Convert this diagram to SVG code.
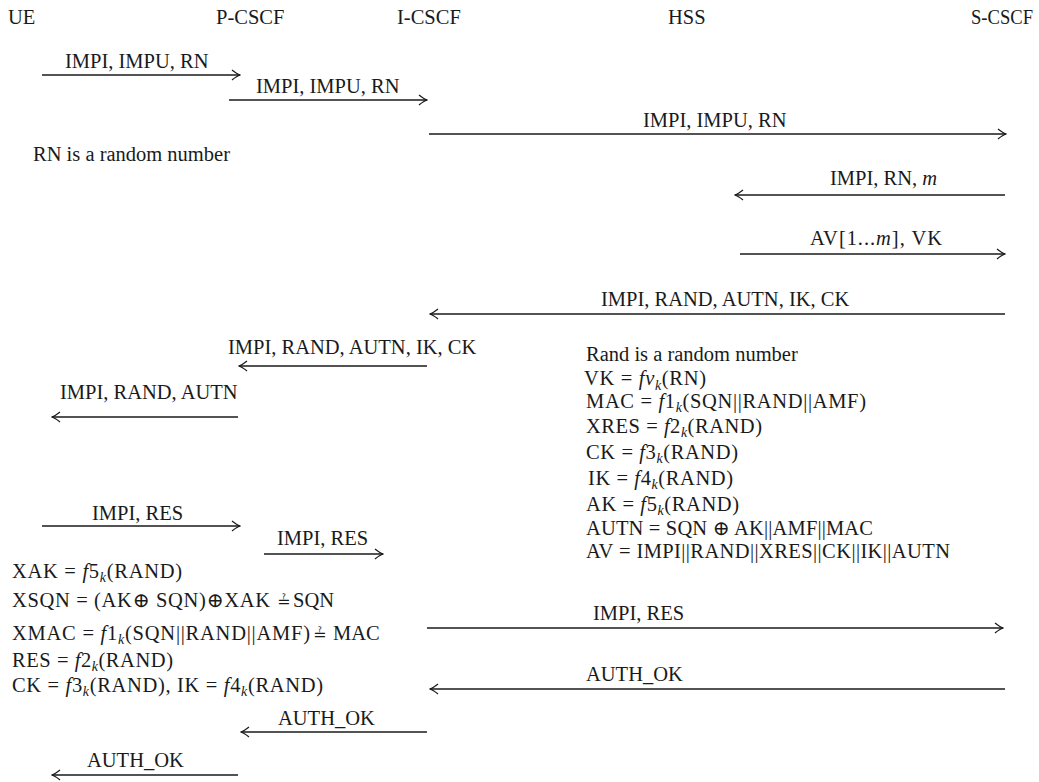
<svg xmlns="http://www.w3.org/2000/svg" width="1039" height="782" viewBox="0 0 1039 782">
<style>
text{font-family:"Liberation Serif","DejaVu Serif",serif;font-size:20.5px;fill:#1a1a1a}
.i{font-style:italic}
.s{font-style:italic;font-size:14px}
.qe{font-family:"DejaVu Sans",sans-serif;font-size:16px}
.ln{stroke:#1a1a1a;stroke-width:1.3;fill:none}
</style>
<defs>
<marker id="ah" viewBox="0 0 10 12" refX="9" refY="6" markerWidth="10" markerHeight="12" markerUnits="userSpaceOnUse" orient="auto">
<path d="M1,1 Q6,5 9,6 Q6,7 1,11" fill="none" stroke="#1a1a1a" stroke-width="1.3"/>
</marker>
</defs>
<rect width="1039" height="782" fill="#fff"/>

<g id="UE"><text x="8" y="24">UE</text></g>
<g id="P-CSCF"><text x="216" y="24">P-CSCF</text></g>
<g id="I-CSCF"><text x="397" y="24">I-CSCF</text></g>
<g id="HSS"><text x="668" y="24">HSS</text></g>
<g id="S-CSCF"><text x="1033" y="24" text-anchor="end" textLength="62" lengthAdjust="spacingAndGlyphs">S-CSCF</text></g>

<g id="connectors">
<line class="ln" x1="42" y1="75" x2="240" y2="75" marker-end="url(#ah)"/>
<text x="65" y="68">IMPI, IMPU, RN</text>
<line class="ln" x1="229" y1="100" x2="427" y2="100" marker-end="url(#ah)"/>
<text x="256" y="93">IMPI, IMPU, RN</text>
<line class="ln" x1="429" y1="134" x2="1006" y2="134" marker-end="url(#ah)"/>
<text x="643" y="127">IMPI, IMPU, RN</text>
<line class="ln" x1="1005" y1="195" x2="735" y2="195" marker-end="url(#ah)"/>
<text x="830" y="185">IMPI, RN, <tspan class="i">m</tspan></text>
<line class="ln" x1="740" y1="254" x2="1005" y2="254" marker-end="url(#ah)"/>
<text x="810" y="245" textLength="132" lengthAdjust="spacing">AV[1...<tspan class="i">m</tspan>], VK</text>
<line class="ln" x1="1005" y1="314" x2="430" y2="314" marker-end="url(#ah)"/>
<text x="601" y="306">IMPI, RAND, AUTN, IK, CK</text>
<line class="ln" x1="427" y1="366" x2="239" y2="366" marker-end="url(#ah)"/>
<text x="228" y="354">IMPI, RAND, AUTN, IK, CK</text>
<line class="ln" x1="238" y1="417" x2="52" y2="417" marker-end="url(#ah)"/>
<text x="60" y="399">IMPI, RAND, AUTN</text>
<line class="ln" x1="42" y1="526" x2="240" y2="526" marker-end="url(#ah)"/>
<text x="92" y="520">IMPI, RES</text>
<line class="ln" x1="264" y1="554" x2="383" y2="554" marker-end="url(#ah)"/>
<text x="277" y="545">IMPI, RES</text>
<line class="ln" x1="427" y1="628" x2="1003" y2="628" marker-end="url(#ah)"/>
<text x="593" y="620">IMPI, RES</text>
<line class="ln" x1="1005" y1="689" x2="430" y2="689" marker-end="url(#ah)"/>
<text x="586" y="681">AUTH_OK</text>
<line class="ln" x1="427" y1="732" x2="241" y2="732" marker-end="url(#ah)"/>
<text x="278" y="725">AUTH_OK</text>
<line class="ln" x1="238" y1="775" x2="52" y2="775" marker-end="url(#ah)"/>
<text x="87" y="767">AUTH_OK</text>
</g>

<g id="note-rn"><text x="33" y="161">RN is a random number</text></g>

<g id="hss-computation">
<text x="586" y="361">Rand is a random number</text>
<text x="584" y="385" textLength="122" lengthAdjust="spacing">VK = <tspan class="i">fv</tspan><tspan class="s" dy="5">k</tspan><tspan dy="-5">(RN)</tspan></text>
<text x="586" y="408" textLength="280" lengthAdjust="spacing">MAC = <tspan class="i">f</tspan>1<tspan class="s" dy="4">k</tspan><tspan dy="-4">(SQN||RAND||AMF)</tspan></text>
<text x="586" y="433" textLength="176" lengthAdjust="spacing">XRES = <tspan class="i">f</tspan>2<tspan class="s" dy="4">k</tspan><tspan dy="-4">(RAND)</tspan></text>
<text x="586" y="459" textLength="152" lengthAdjust="spacing">CK = <tspan class="i">f</tspan>3<tspan class="s" dy="4">k</tspan><tspan dy="-4">(RAND)</tspan></text>
<text x="588" y="485" textLength="145" lengthAdjust="spacing">IK = <tspan class="i">f</tspan>4<tspan class="s" dy="4">k</tspan><tspan dy="-4">(RAND)</tspan></text>
<text x="586" y="511" textLength="153" lengthAdjust="spacing">AK = <tspan class="i">f</tspan>5<tspan class="s" dy="4">k</tspan><tspan dy="-4">(RAND)</tspan></text>
<text x="586" y="535" textLength="287" lengthAdjust="spacing">AUTN = SQN ⊕ AK||AMF||MAC</text>
<text x="586" y="558" textLength="364" lengthAdjust="spacing">AV = IMPI||RAND||XRES||CK||IK||AUTN</text>
</g>

<g id="ue-computation">
<text x="12" y="578" textLength="170" lengthAdjust="spacing">XAK = <tspan class="i">f</tspan>5<tspan class="s" dy="4">k</tspan><tspan dy="-4">(RAND)</tspan></text>
<text x="12" y="607" textLength="258" lengthAdjust="spacing">XSQN = (AK⊕ SQN)⊕XAK</text>
<text class="qe" x="277" y="607">≟</text>
<text x="293" y="607">SQN</text>
<text x="12" y="640" textLength="298" lengthAdjust="spacing">XMAC = <tspan class="i">f</tspan>1<tspan class="s" dy="4">k</tspan><tspan dy="-4">(SQN||RAND||AMF)</tspan></text>
<text class="qe" x="313" y="640">≟</text>
<text x="333" y="640">MAC</text>
<text x="12" y="667" textLength="161" lengthAdjust="spacing">RES = <tspan class="i">f</tspan>2<tspan class="s" dy="4">k</tspan><tspan dy="-4">(RAND)</tspan></text>
<text x="12" y="692" textLength="311" lengthAdjust="spacing">CK = <tspan class="i">f</tspan>3<tspan class="s" dy="4">k</tspan><tspan dy="-4">(RAND), IK = </tspan><tspan class="i">f</tspan>4<tspan class="s" dy="4">k</tspan><tspan dy="-4">(RAND)</tspan></text>
</g>
</svg>
